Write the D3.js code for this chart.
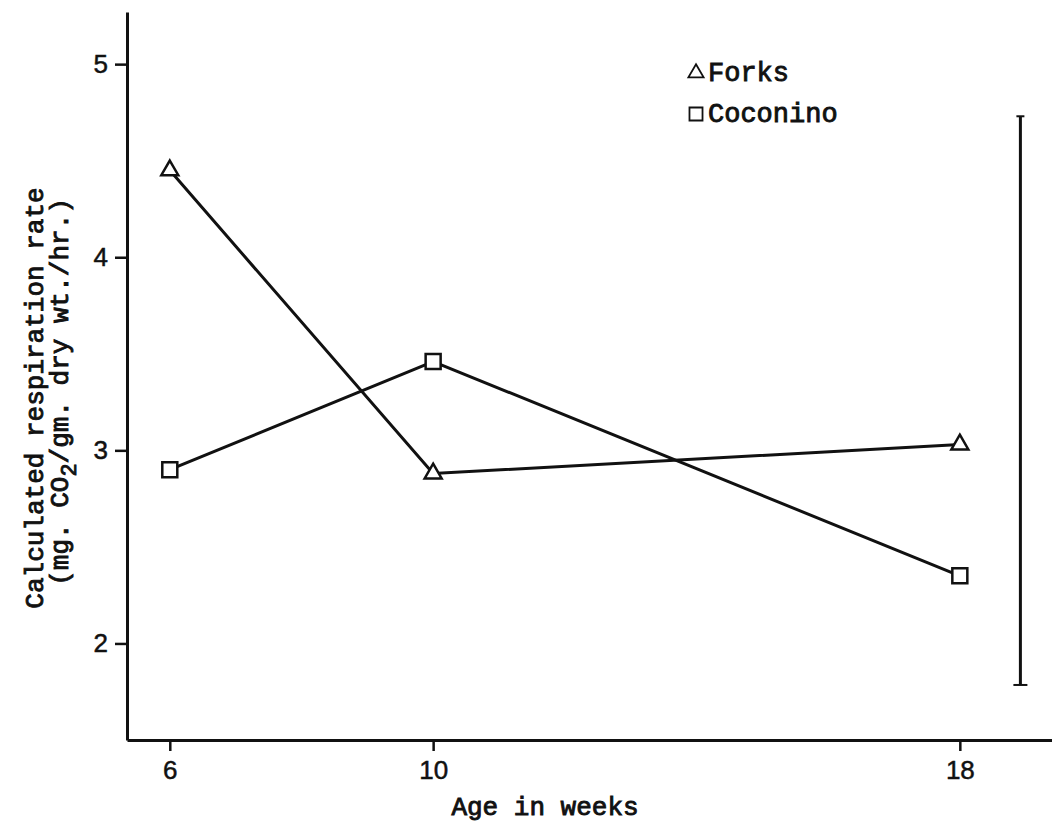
<!DOCTYPE html>
<html>
<head>
<meta charset="utf-8">
<script src="https://cdn.jsdelivr.net/npm/d3@7"></script>
<style>
  html, body { margin: 0; padding: 0; background: #fff; }
  svg { display: block; }
</style>
</head>
<body>
<svg id="chart" width="1052" height="824"></svg>
<script>
// Respiration rate by seedling age, two seed sources
const weeks = [6, 10, 18];
const forksRate = [4.45, 2.88, 3.03];
const coconinoRate = [2.90, 3.46, 2.35];
const seriesNames = ["Forks", "Coconino"];
const yTickValues = [2, 3, 4, 5];
const xTickValues = [6, 10, 18];
// vertical range bar drawn at the right of the plot
const rangeWeek = [18.92];
const rangeLimits = [1.785, 4.73];

const svg = d3.select("#chart");
const ink = "#111";
const monoFont = "'Liberation Mono', 'DejaVu Sans Mono', monospace";
const sansFont = "'Liberation Sans', Arial, sans-serif";

const x = d3.scaleLinear().domain([5.35, 19.4]).range([127, 1052]);
const y = d3.scaleLinear().domain([1.5, 5.27]).range([740, 12]);

// typewriter-style text: regular mono face thickened with a thin outline
function typeText(sel, size) {
  return sel.style("font-family", monoFont)
    .style("font-size", size + "px")
    .attr("fill", ink)
    .attr("stroke", ink)
    .attr("stroke-width", 0.9);
}

// axes
const yAxis = d3.axisLeft(y).tickValues(yTickValues).tickFormat(d3.format("d"))
  .tickSize(12).tickSizeOuter(0).tickPadding(7);
const gy = svg.append("g").attr("transform", `translate(${x(5.35)},0)`).call(yAxis);
const xAxis = d3.axisBottom(x).tickValues(xTickValues).tickFormat(d3.format("d"))
  .tickSize(11).tickSizeOuter(0).tickPadding(10);
const gx = svg.append("g").attr("transform", `translate(0,${y(1.5)})`).call(xAxis);

[gx, gy].forEach(g => {
  g.attr("font-size", null).attr("font-family", null);
  g.select(".domain").attr("stroke", ink).attr("stroke-width", 3);
  g.selectAll(".tick line").attr("stroke", ink).attr("stroke-width", 2.5);
  g.selectAll(".tick text").attr("fill", ink)
    .attr("stroke", ink).attr("stroke-width", 0.5)
    .style("font-family", sansFont).style("font-size", "26px");
});

// axis titles
typeText(svg.append("text"), 26)
  .attr("x", 545).attr("y", 815)
  .attr("text-anchor", "middle")
  .text("Age in weeks");

typeText(svg.append("text"), 26)
  .attr("transform", "translate(43,398) rotate(-90)")
  .attr("text-anchor", "middle")
  .text("Calculated respiration rate");

const unitLabel = typeText(svg.append("text"), 26)
  .attr("transform", "translate(68,392) rotate(-90)")
  .attr("text-anchor", "middle");
unitLabel.append("tspan").text("(mg. CO");
unitLabel.append("tspan").attr("dy", 8).style("font-size", "22px").text("2");
unitLabel.append("tspan").attr("dy", -8).text("/gm. dry wt./hr.)");

// series
const series = [
  { name: seriesNames[0], values: forksRate, symbol: d3.symbolTriangle, size: 125 },
  { name: seriesNames[1], values: coconinoRate, symbol: d3.symbolSquare, size: 225 }
];

const line = d3.line().x(d => x(d[0])).y(d => y(d[1]));

series.forEach(s => {
  const pts = weeks.map((w, i) => [w, s.values[i]]);
  svg.append("path")
    .attr("d", line(pts))
    .attr("fill", "none")
    .attr("stroke", ink)
    .attr("stroke-width", 3);
});

series.forEach(s => {
  const pts = weeks.map((w, i) => [w, s.values[i]]);
  svg.selectAll(null).data(pts).enter().append("path")
    .attr("transform", d => `translate(${x(d[0])},${y(d[1])})`)
    .attr("d", d3.symbol().type(s.symbol).size(s.size))
    .attr("fill", "#fff")
    .attr("stroke", ink)
    .attr("stroke-width", 2.5);
});

// range bar
const rx = x(rangeWeek[0]);
svg.append("line")
  .attr("x1", rx).attr("x2", rx)
  .attr("y1", y(rangeLimits[0])).attr("y2", y(rangeLimits[1]))
  .attr("stroke", ink).attr("stroke-width", 3);
svg.append("line")
  .attr("x1", rx - 4).attr("x2", rx + 4)
  .attr("y1", y(rangeLimits[1])).attr("y2", y(rangeLimits[1]))
  .attr("stroke", ink).attr("stroke-width", 2);
svg.append("line")
  .attr("x1", rx - 7).attr("x2", rx + 7)
  .attr("y1", y(rangeLimits[0])).attr("y2", y(rangeLimits[0]))
  .attr("stroke", ink).attr("stroke-width", 2);

// legend
const legend = svg.append("g").attr("transform", "translate(696,0)");
series.forEach((s, i) => {
  const cy = 73 + i * 41;
  legend.append("path")
    .attr("transform", `translate(0,${cy})`)
    .attr("d", d3.symbol().type(s.symbol).size(i === 0 ? 100 : 170))
    .attr("fill", "none")
    .attr("stroke", ink)
    .attr("stroke-width", 1.8);
  typeText(legend.append("text"), 27)
    .attr("x", 12).attr("y", cy + 8)
    .text(s.name);
});
</script>
</body>
</html>
